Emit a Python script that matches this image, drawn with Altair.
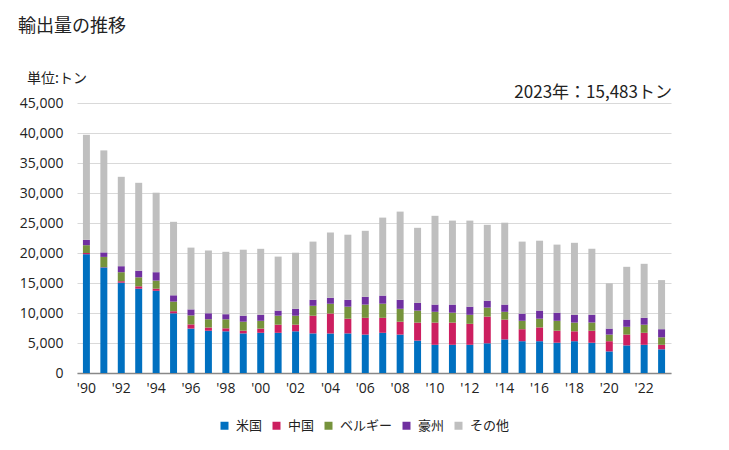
import altair as alt
import pandas as pd

years = list(range(1990, 2024))
series = ["米国", "中国", "ベルギー", "豪州", "その他"]
colors = ["#0070C0", "#CC1F60", "#76933C", "#7030A0", "#BFBFBF"]

us = [19800, 17600, 15050, 14050, 13700, 9950, 7400, 7050, 6950, 6600,
      6700, 6700, 6950, 6600, 6600, 6600, 6400, 6700, 6400, 5400,
      4700, 4700, 4700, 4950, 5600, 5300, 5300, 5050, 5300, 5050,
      3600, 4600, 4700, 3950]
cn = [200, 50, 250, 400, 350, 350, 700, 550, 500, 450,
      700, 1350, 1100, 2950, 3300, 2450, 2800, 2500, 2150, 3000,
      3700, 3700, 3500, 4450, 3300, 2000, 2300, 2000, 1650, 2000,
      1700, 1800, 2000, 750]
be = [1300, 1700, 1500, 1500, 1350, 1600, 1500, 1350, 1500, 1500,
      1300, 1500, 1500, 1650, 1650, 2000, 2200, 2350, 2150, 2000,
      1800, 1650, 1500, 1500, 1300, 1400, 1450, 1650, 1450, 1350,
      1100, 1300, 1350, 1250]
au = [900, 750, 1000, 1100, 1400, 1050, 1000, 1000, 850, 1000,
      1000, 850, 1150, 1000, 1000, 1150, 1300, 1350, 1500, 1300,
      1200, 1350, 1350, 1150, 1200, 1200, 1350, 1350, 1300, 1300,
      1000, 1200, 1150, 1350]
other = [17500, 17000, 14900, 14650, 13250, 12250, 10300, 10450, 10400, 11000,
         11000, 9000, 9350, 9700, 10850, 10850, 11000, 13000, 14700, 12500,
         14800, 14000, 14350, 12650, 13650, 12000, 11650, 11350, 12000, 11000,
         7550, 8800, 9000, 8183]

rows = []
for i, yr in enumerate(years):
    for k, (name, vals) in enumerate(zip(series, [us, cn, be, au, other])):
        rows.append({"year": yr, "country": name, "value": vals[i], "order": k})
df = pd.DataFrame(rows)

FONT = "Noto Sans CJK JP"
NUMFONT = "Open Sans"

bars = alt.Chart(df).mark_bar().encode(
    x=alt.X("year:O",
            scale=alt.Scale(paddingInner=0.6, paddingOuter=0.34),
            axis=alt.Axis(title=None, labelAngle=0, ticks=False,
                          domainColor="#888888", domainWidth=1.5,
                          labelFont=NUMFONT, labelFontSize=14, labelPadding=8,
                          labelColor="#222222",
                          labelExpr="datum.value % 2 == 0 ? \"'\" + slice(toString(datum.value), 2) : ''")),
    y=alt.Y("value:Q", stack="zero",
            scale=alt.Scale(domain=[0, 45000]),
            axis=alt.Axis(title=None, values=list(range(0, 45001, 5000)),
                          labelExpr="format(datum.value, ',.0f')",
                          domain=False, ticks=False, gridColor="#D9D9D9",
                          labelFont=NUMFONT, labelFontSize=14, labelPadding=14,
                          labelColor="#222222")),
    color=alt.Color("country:N",
                    scale=alt.Scale(domain=series, range=colors),
                    sort=series,
                    legend=alt.Legend(title=None, orient="none", legendX=141, legendY=316,
                                      direction="horizontal", symbolType="square",
                                      symbolSize=64, symbolStrokeWidth=0,
                                      labelFontSize=13, columnPadding=7, labelOffset=5,
                                      labelColor="#222222")),
    order=alt.Order("order:Q", sort="ascending"),
)

txt = pd.DataFrame({"t": [0]})
title = alt.Chart(txt).mark_text(align="left", baseline="middle", fontSize=18,
                                 font=FONT, color="#222222").encode(
    x=alt.value(-59), y=alt.value(-76), text=alt.value("輸出量の推移"))
unit = alt.Chart(txt).mark_text(align="left", baseline="middle", fontSize=14,
                                font=FONT, color="#222222").encode(
    x=alt.value(-50), y=alt.value(-24), text=alt.value("単位:トン"))
note = alt.Chart(txt).mark_text(align="right", baseline="middle", fontSize=17,
                                font=FONT, color="#222222").encode(
    x=alt.value(595), y=alt.value(-10), text=alt.value("2023年：15,483トン"))

chart = alt.layer(bars, title, unit, note).properties(
    width=594, height=270,
    autosize=alt.AutoSizeParams(type="none"),
    padding={"left": 69, "top": 95, "right": 40, "bottom": 60},
).configure(font=FONT).configure_view(stroke=None)

chart.save("out.html", embed_options={"renderer": "svg", "actions": False})
